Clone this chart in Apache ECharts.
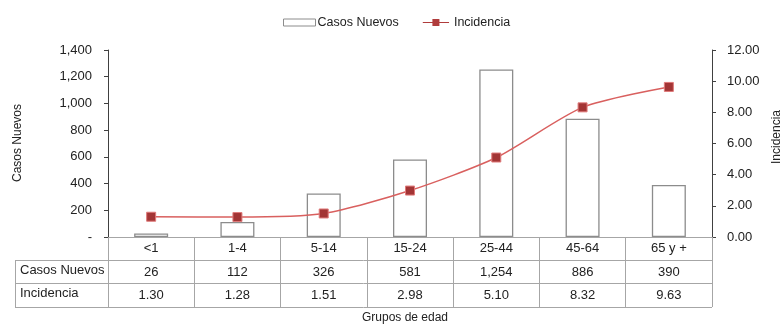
<!DOCTYPE html>
<html><head><meta charset="utf-8">
<script src="https://cdn.jsdelivr.net/npm/echarts@6/dist/echarts.min.js"></script>
<style>html,body{margin:0;padding:0;background:#fff}#c{width:782px;height:326px}</style>
</head><body><div id="c"></div>
<script>
const categories = ['<1','1-4','5-14','15-24','25-44','45-64','65 y +'];
const casosNuevos = [26,112,326,581,1254,886,390];
const incidencia = [1.30,1.28,1.51,2.98,5.10,8.32,9.63];
const leftTicks = {min:0,max:1400,interval:200};
const rightTicks = {min:0,max:12,interval:2};

const FONT = '"Liberation Sans", Arial, sans-serif';
const TXT = '#222';
const GRID = '#a6a6a6';
const fmtInt = v => v===0 ? '-' : v.toLocaleString('en-US');

const chart = echarts.init(document.getElementById('c'), null, {renderer:'canvas'});
chart.setOption({
  animation:false,
  textStyle:{fontFamily:FONT},
  legend:{
    top:11, left:278, itemGap:24, itemWidth:32, itemHeight:7,
    textStyle:{fontSize:12.5,color:TXT,fontFamily:FONT,padding:[0,10,0,-3]},
    data:[
      {name:'Casos Nuevos', icon:'rect', itemStyle:{color:'#fff',borderColor:'#8c8c8c',borderWidth:1}},
      {name:'Incidencia', icon:'path://M0,3.5L11,3.5L11,0L19,0L19,3.5L30,3.5L30,4.5L19,4.5L19,8L11,8L11,4.5L0,4.5Z',
       itemStyle:{color:'#b03c3c',borderWidth:0}}
    ]
  },
  grid:{left:108,right:70,top:50,bottom:89,containLabel:false,outerBoundsMode:'none'},
  xAxis:{
    type:'category', data:categories,
    axisLine:{lineStyle:{color:GRID,width:1}},
    axisTick:{show:true,length:70,lineStyle:{color:GRID}},
    axisLabel:{
      margin:0, fontSize:13, color:TXT, lineHeight:23.5, fontFamily:FONT,
      formatter:(v,i)=> v + '\n' + casosNuevos[i].toLocaleString('en-US') + '\n' + incidencia[i].toFixed(2)
    }
  },
  yAxis:[
    {type:'value', min:leftTicks.min, max:leftTicks.max, interval:leftTicks.interval,
     axisLine:{show:true,lineStyle:{color:'#404040'}},
     axisTick:{show:true,length:4,lineStyle:{color:'#404040'}},
     splitLine:{show:false},
     axisLabel:{formatter:fmtInt,fontSize:13,color:TXT,margin:16}},
    {type:'value', min:rightTicks.min, max:rightTicks.max, interval:rightTicks.interval,
     position:'right',
     axisLine:{show:true,lineStyle:{color:'#404040'}},
     axisTick:{show:true,length:4,lineStyle:{color:'#404040'}},
     splitLine:{show:false},
     axisLabel:{formatter:v=>v.toFixed(2),fontSize:13,color:TXT,margin:15}}
  ],
  series:[
    {name:'Casos Nuevos', type:'bar', data:casosNuevos, barWidth:34, yAxisIndex:0,
     itemStyle:{color:'#fff',borderColor:'#8c8c8c',borderWidth:1.3}},
    {name:'Incidencia', type:'line', data:incidencia, yAxisIndex:1, smooth:0.25,
     symbol:'rect', symbolSize:9,
     lineStyle:{color:'#d9605f',width:1.5},
     itemStyle:{color:'#a33535',borderColor:'#e07a7a',borderWidth:1}}
  ],
  graphic:[
    {type:'line',shape:{x1:15,y1:260.5,x2:712,y2:260.5},style:{stroke:GRID,lineWidth:1}},
    {type:'line',shape:{x1:15,y1:283.5,x2:712,y2:283.5},style:{stroke:GRID,lineWidth:1}},
    {type:'line',shape:{x1:15,y1:307.5,x2:712,y2:307.5},style:{stroke:GRID,lineWidth:1}},
    {type:'line',shape:{x1:15.5,y1:260,x2:15.5,y2:307.5},style:{stroke:GRID,lineWidth:1}},
    {type:'text',left:20,top:264,style:{text:'Casos Nuevos',font:'13px '+FONT,fill:TXT}},
    {type:'text',left:20,top:287,style:{text:'Incidencia',font:'13px '+FONT,fill:TXT}},
    {type:'text',x:18,y:143,rotation:Math.PI/2,style:{text:'Casos Nuevos',font:'12px '+FONT,fill:TXT,align:'center',verticalAlign:'middle'}},
    {type:'text',x:777,y:137,rotation:Math.PI/2,style:{text:'Incidencia',font:'12px '+FONT,fill:TXT,align:'center',verticalAlign:'middle'}},
    {type:'text',x:405,y:318,style:{text:'Grupos de edad',font:'12px '+FONT,fill:TXT,align:'center',verticalAlign:'middle'}}
  ]
});
</script></body></html>
